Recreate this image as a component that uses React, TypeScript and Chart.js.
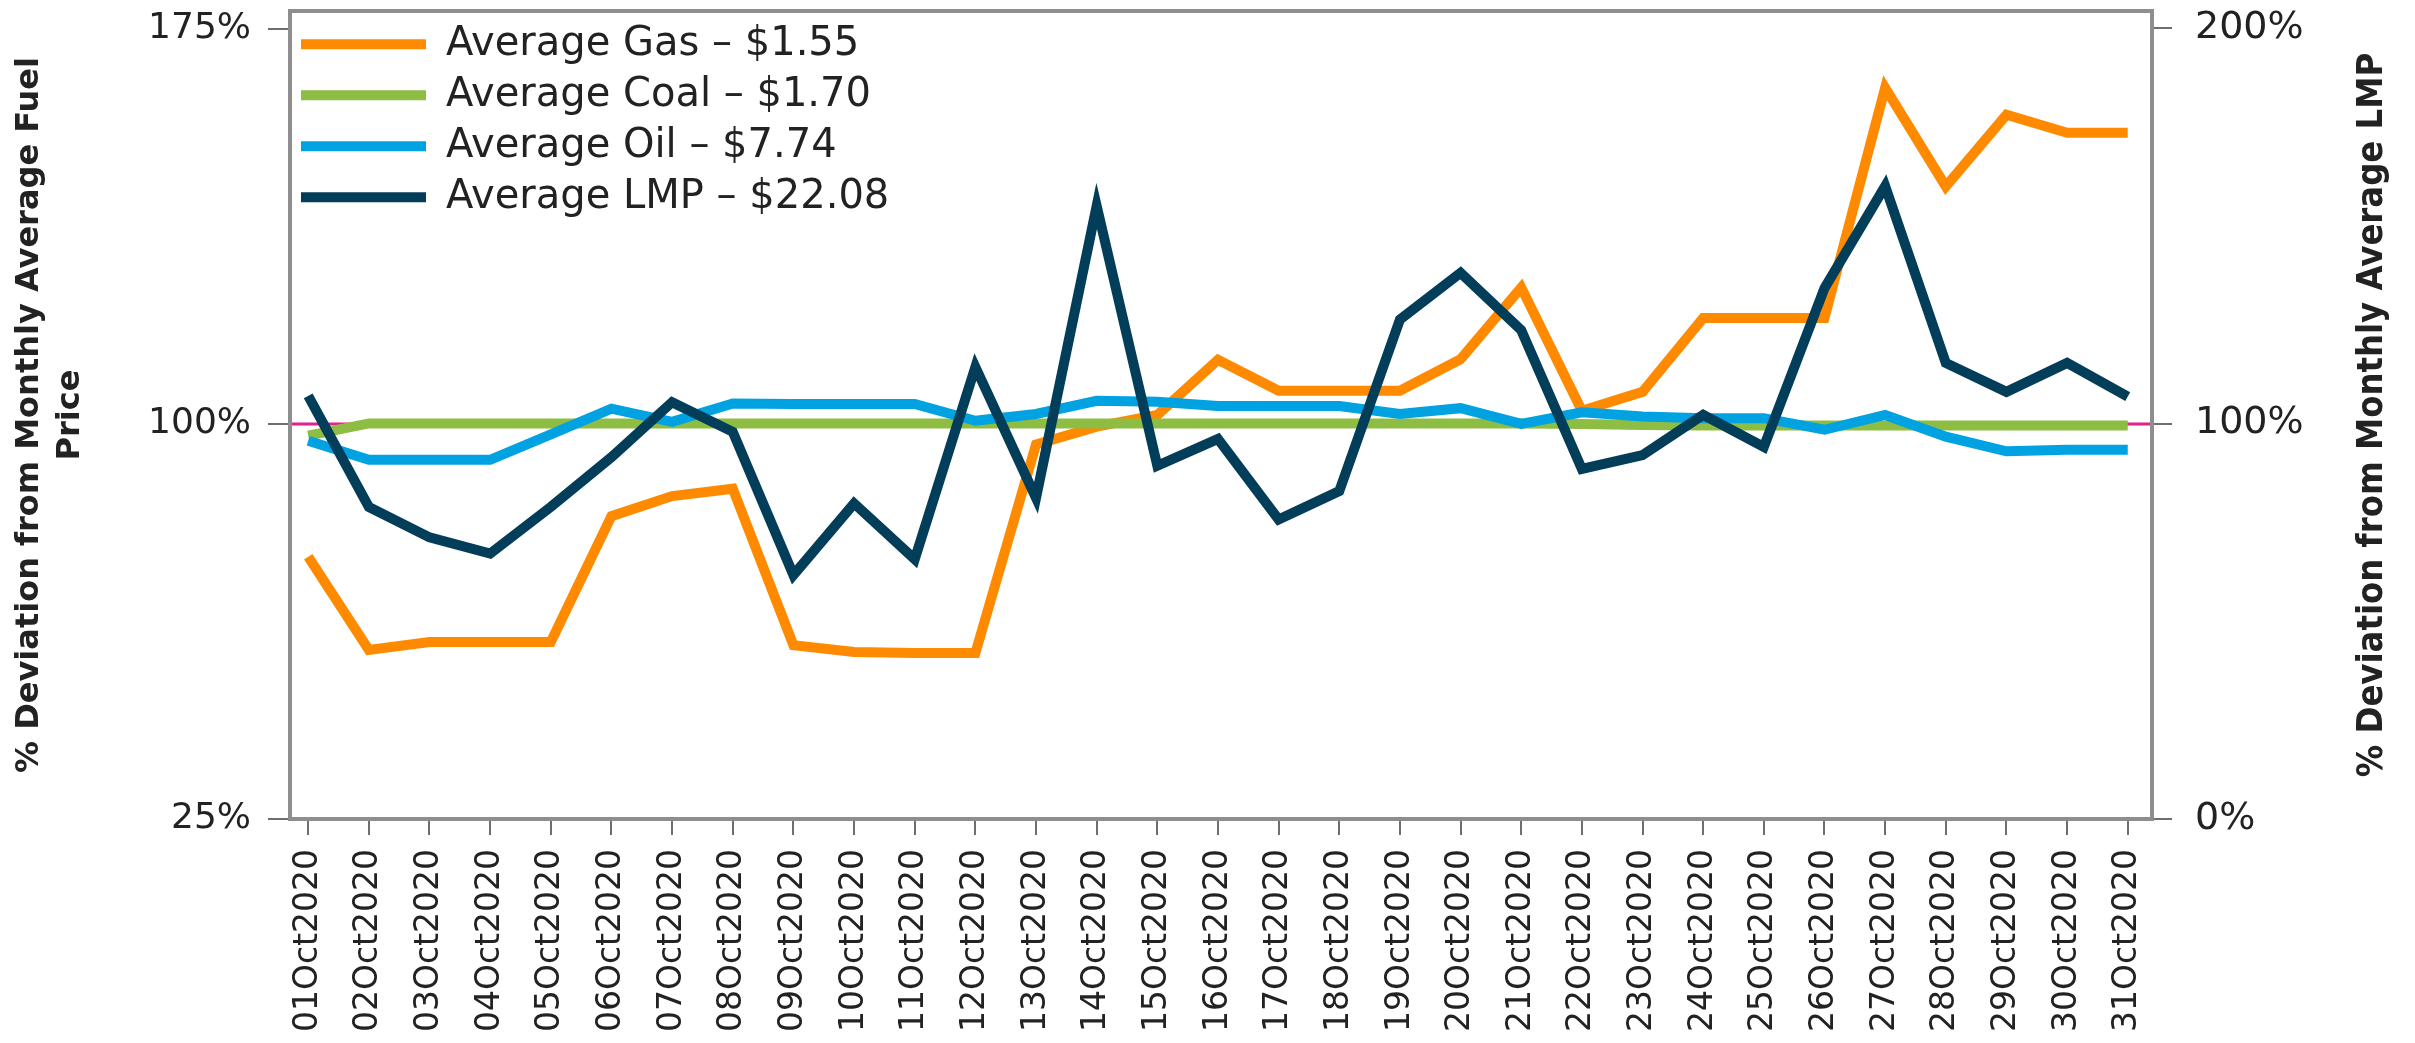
import React, { useEffect, useRef } from 'react';
import { Chart, registerables } from 'chart.js';

Chart.register(...registerables);

const dayLabels = [
  '01Oct2020', '02Oct2020', '03Oct2020', '04Oct2020', '05Oct2020', '06Oct2020', '07Oct2020', '08Oct2020',
  '09Oct2020', '10Oct2020', '11Oct2020', '12Oct2020', '13Oct2020', '14Oct2020', '15Oct2020', '16Oct2020',
  '17Oct2020', '18Oct2020', '19Oct2020', '20Oct2020', '21Oct2020', '22Oct2020', '23Oct2020', '24Oct2020',
  '25Oct2020', '26Oct2020', '27Oct2020', '28Oct2020', '29Oct2020', '30Oct2020', '31Oct2020',
];

const gasValues = [
  74.8, 57.1, 58.6, 58.6, 58.6, 82.5, 86.3, 87.7, 58.0, 56.7, 56.5, 56.5, 96.1, 99.5, 101.7, 112.2,
  106.3, 106.3, 106.3, 112.3, 125.9, 102.5, 106.1, 120.1, 120.1, 120.1, 163.8, 145.1, 158.7, 155.3, 155.3,
];

const coalValues = [
  97.8, 100.1, 100.1, 100.1, 100.1, 100.1, 100.1, 100.1, 100.1, 100.1, 100.1, 100.1, 100.1, 100.1, 100.1, 100.1,
  100.1, 100.1, 100.1, 100.1, 100.1, 100.0, 99.8, 99.7, 99.7, 99.7, 99.7, 99.7, 99.7, 99.7, 99.7,
];

const oilValues = [
  96.8, 93.2, 93.2, 93.2, 98.0, 102.9, 100.4, 103.9, 103.8, 103.8, 103.8, 100.6, 101.9, 104.4, 104.2, 103.4,
  103.4, 103.4, 101.9, 103.0, 100.0, 102.2, 101.4, 101.1, 101.1, 98.9, 101.7, 97.6, 94.8, 95.1, 95.1,
];

const lmpValues = [
  107.0, 78.9, 71.2, 67.1, 78.9, 91.5, 105.4, 97.9, 61.7, 79.8, 65.7, 114.3, 81.2, 155.0, 89.3, 96.1,
  75.7, 82.9, 126.3, 138.1, 123.6, 88.5, 92.0, 102.2, 94.1, 134.2, 160.0, 115.3, 108.0, 115.3, 106.8,
];

const seriesNames = [
  'Average Gas \u2013 $1.55',
  'Average Coal \u2013 $1.70',
  'Average Oil \u2013 $7.74',
  'Average LMP \u2013 $22.08',
];
const seriesColors = ['#ff8a00', '#8dbd43', '#00a2e2', '#023d5a'];

const leftTicks = [25, 100, 175];
const rightTicks = [0, 100, 200];
const referenceLevel = 100;

const leftTitleLines = ['% Deviation from Monthly Average Fuel', 'Price'];
const rightTitle = '% Deviation from Monthly Average LMP';

const TEXT = '#222222';
const AXIS = '#8e8e8e';
const TICK = '#6e6e6e';

const toPoints = (vals: number[]) => vals.map((v, i) => ({ x: i + 1, y: v }));

const framePlugin = {
  id: 'frameAndTitles',
  beforeDatasetsDraw(chart: any) {
    const { ctx, chartArea, scales } = chart;
    const y = scales.y.getPixelForValue(referenceLevel);
    ctx.save();
    ctx.strokeStyle = '#e3208b';
    ctx.lineWidth = 3;
    ctx.beginPath();
    ctx.moveTo(chartArea.left, y);
    ctx.lineTo(chartArea.right, y);
    ctx.stroke();
    ctx.restore();
  },
  afterDatasetsDraw(chart: any) {
    const { ctx, chartArea } = chart;
    ctx.save();
    ctx.strokeStyle = AXIS;
    ctx.lineWidth = 4;
    ctx.strokeRect(chartArea.left, chartArea.top, chartArea.right - chartArea.left, chartArea.bottom - chartArea.top);
    ctx.restore();
  },
  afterDraw(chart: any) {
    const { ctx, chartArea } = chart;
    const cy = (chartArea.top + chartArea.bottom) / 2;
    ctx.save();
    ctx.fillStyle = TEXT;
    ctx.textAlign = 'center';
    ctx.textBaseline = 'middle';
    ctx.font = 'bold 32px "DejaVu Sans"';
    const xs = [30, 71];
    leftTitleLines.forEach((line, i) => {
      ctx.save();
      ctx.translate(xs[i], cy);
      ctx.rotate(-Math.PI / 2);
      ctx.fillText(line, 0, 0);
      ctx.restore();
    });
    ctx.font = 'bold 36px "DejaVu Sans Condensed", "Liberation Sans Narrow", sans-serif';
    ctx.save();
    ctx.translate(2373, cy);
    ctx.rotate(-Math.PI / 2);
    ctx.fillText(rightTitle, 0, 0);
    ctx.restore();
    ctx.restore();
  },
};

export default function App() {
  const ref = useRef<HTMLCanvasElement>(null);

  useEffect(() => {
    document.body.style.margin = '0';
    const canvas = ref.current;
    if (!canvas) return;

    const datasets = [gasValues, coalValues, oilValues, lmpValues].map((vals, i) => ({
      label: seriesNames[i],
      data: toPoints(vals),
      borderColor: seriesColors[i],
      backgroundColor: seriesColors[i],
      borderWidth: 10,
      pointRadius: 0,
      tension: 0,
      yAxisID: i === 3 ? 'y1' : 'y',
      order: 3 - i,
    }));

    const chart = new Chart(canvas, {
      type: 'line',
      data: { datasets },
      plugins: [framePlugin],
      options: {
        responsive: false,
        animation: false,
        devicePixelRatio: 1,
        layout: { padding: { top: 11, left: 0, right: 0, bottom: 0 } },
        plugins: {
          tooltip: { enabled: false },
          legend: {
            position: 'chartArea' as any,
            align: 'start',
            title: { display: true, text: '', font: { size: 11 }, padding: 0 },
            labels: {
              boxWidth: 125,
              boxHeight: 10,
              padding: 11,
              color: TEXT,
              font: { family: 'DejaVu Sans', size: 40 },
              generateLabels: (c: any) =>
                c.data.datasets.map((ds: any, i: number) => ({
                  text: ds.label,
                  fillStyle: ds.borderColor,
                  strokeStyle: ds.borderColor,
                  lineWidth: 0,
                  hidden: false,
                  datasetIndex: i,
                  fontColor: TEXT,
                })),
            },
          },
        },
        scales: {
          x: {
            type: 'linear',
            min: 0.7,
            max: 31.4,
            afterBuildTicks: (s: any) => {
              s.ticks = dayLabels.map((_, i) => ({ value: i + 1 }));
            },
            afterFit: (s: any) => {
              s.height = 224;
              s.paddingLeft = 0;
              s.paddingRight = 0;
            },
            ticks: {
              autoSkip: false,
              minRotation: 90,
              maxRotation: 90,
              padding: 14,
              color: TEXT,
              font: { family: 'DejaVu Sans', size: 33 },
              callback: (v: any) => dayLabels[Math.round(Number(v)) - 1] ?? '',
            },
            grid: { drawOnChartArea: false, tickLength: 16, color: TICK, lineWidth: 2 },
            border: { display: false },
          },
          y: {
            type: 'linear',
            position: 'left',
            min: 25,
            max: 178.4,
            afterBuildTicks: (s: any) => {
              s.ticks = leftTicks.map((v) => ({ value: v }));
            },
            afterFit: (s: any) => {
              s.width = 290;
              s.paddingTop = 0;
              s.paddingBottom = 0;
            },
            ticks: {
              padding: 17,
              color: TEXT,
              font: { family: 'DejaVu Sans', size: 36 },
              callback: (v: any) => `${v}%`,
            },
            grid: { drawOnChartArea: false, tickLength: 22, color: TICK, lineWidth: 2 },
            border: { display: false },
          },
          y1: {
            type: 'linear',
            position: 'right',
            min: 0,
            max: 204.3,
            afterBuildTicks: (s: any) => {
              s.ticks = rightTicks.map((v) => ({ value: v }));
            },
            afterFit: (s: any) => {
              s.width = 263;
              s.paddingTop = 0;
              s.paddingBottom = 0;
            },
            ticks: {
              padding: 23,
              color: TEXT,
              font: { family: 'DejaVu Sans', size: 38 },
              callback: (v: any) => `${v}%`,
            },
            grid: { drawOnChartArea: false, tickLength: 20, color: TICK, lineWidth: 2 },
            border: { display: false },
          },
        },
      } as any,
    });

    return () => chart.destroy();
  }, []);

  return (
    <div style={{ width: 2415, height: 1043 }}>
      <canvas ref={ref} width={2415} height={1043} style={{ display: 'block' }} />
    </div>
  );
}
